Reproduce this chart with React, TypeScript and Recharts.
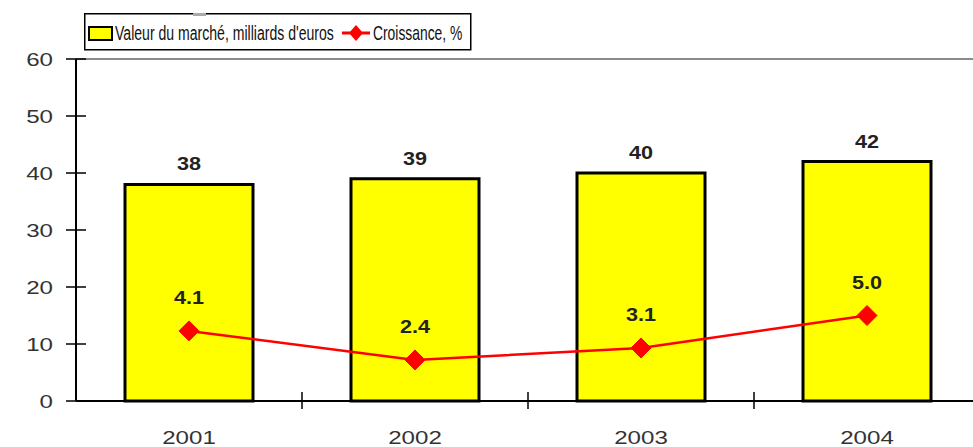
import React from 'react';
import { ComposedChart, Bar, Line, XAxis, YAxis, LabelList, ReferenceLine } from 'recharts';

// Data
const years = ['2001', '2002', '2003', '2004'];
const marketValue = [38, 39, 40, 42];
const growth = [4.1, 2.4, 3.1, 5.0];
const growthLabels = ['4.1', '2.4', '3.1', '5.0'];
const yTicks = [0, 10, 20, 30, 40, 50, 60];

const chartData = years.map((year, i) => ({
  year,
  value: marketValue[i],
  growth: growth[i],
  growthLabel: growthLabels[i]
}));

const CHART_W = 990;
const CHART_H = 447;
const MARGIN = { top: 59, right: 10, bottom: 16, left: 0 };
const Y_AXIS_W = 76;
const BAND = (CHART_W - MARGIN.left - MARGIN.right - Y_AXIS_W) / years.length;

const FONT = "'Liberation Sans', Arial, Helvetica, sans-serif";
const STRETCH = 1.27; // the picture's text is drawn wide

const YTick = (props: any) => {
  const { x, y, payload } = props;
  return (
    <g>
      <line x1={x - 10} x2={x + 10} y1={y} y2={y} stroke="#000" strokeWidth={1.5} />
      <text
        transform={`translate(${x - 23},${y + 7}) scale(${STRETCH},1)`}
        textAnchor="end"
        fontFamily={FONT}
        fontSize={19}
        fill="#333"
      >
        {payload.value}
      </text>
    </g>
  );
};

const XTick = (props: any) => {
  const { x, y, payload } = props;
  const bx = x + BAND / 2;
  return (
    <g>
      <line x1={bx} x2={bx} y1={y - 9} y2={y + 8} stroke="#000" strokeWidth={1.5} />
      <text
        transform={`translate(${x},${y + 43}) scale(${STRETCH},1)`}
        textAnchor="middle"
        fontFamily={FONT}
        fontSize={19}
        fill="#333"
      >
        {payload.value}
      </text>
    </g>
  );
};

const Diamond = (props: any) => {
  const { cx, cy } = props;
  if (cx == null || cy == null) return null;
  const r = 10;
  return (
    <polygon
      points={`${cx},${cy - r} ${cx + r},${cy} ${cx},${cy + r} ${cx - r},${cy}`}
      fill="#ff0000"
      stroke="#ff0000"
    />
  );
};

const BarValueLabel = (props: any) => {
  const { x, y, width, value } = props;
  return (
    <text
      transform={`translate(${x + width / 2},${y - 14}) scale(1.2,1)`}
      textAnchor="middle"
      fontFamily={FONT}
      fontWeight="bold"
      fontSize={18}
      fill="#222"
    >
      {value}
    </text>
  );
};

const GrowthLabel = (props: any) => {
  const { x, y, value } = props;
  return (
    <text
      transform={`translate(${x},${y - 27}) scale(1.2,1)`}
      textAnchor="middle"
      fontFamily={FONT}
      fontWeight="bold"
      fontSize={18}
      fill="#222"
    >
      {value}
    </text>
  );
};

// legend drawn as its own box, above the plot, like the original (narrow text)
const LegendBox = () => (
  <svg width={388} height={38} style={{ position: 'absolute', left: 84, top: 13 }}>
    <rect x={0.75} y={0.75} width={386} height={36} fill="#fff" stroke="#000" strokeWidth={1.5} />
    <rect x={109} y={0} width={13} height={3} fill="#aaa" />
    <rect x={5} y={14} width={23} height={13} fill="#ffff00" stroke="#000" strokeWidth={2} />
    <text transform="translate(31,27) scale(0.67,1)" fontFamily={FONT} fontSize={21} fill="#111">
      Valeur du marché, milliards d'euros
    </text>
    <line x1={258} x2={286} y1={20} y2={20} stroke="#ff0000" strokeWidth={3} />
    <polygon points="272,12 279,20 272,28 265,20" fill="#ff0000" />
    <text transform="translate(289,27) scale(0.66,1)" fontFamily={FONT} fontSize={21} fill="#111">
      Croissance, %
    </text>
  </svg>
);

const App: React.FC = () => {
  return (
    <div style={{ position: 'absolute', left: 0, top: 0, width: 973, height: 447, overflow: 'hidden', background: '#fff' }}>
      <ComposedChart width={CHART_W} height={CHART_H} data={chartData} margin={MARGIN}>
        <XAxis
          dataKey="year"
          height={30}
          tickSize={0}
          tickMargin={0}
          tickLine={false}
          axisLine={{ stroke: '#000', strokeWidth: 2 }}
          tick={<XTick />}
          interval={0}
        />
        <YAxis
          yAxisId="left"
          width={Y_AXIS_W}
          domain={[0, 60]}
          ticks={yTicks}
          tickSize={0}
          tickMargin={0}
          tickLine={false}
          axisLine={{ stroke: '#000', strokeWidth: 2 }}
          tick={<YTick />}
          interval={0}
        />
        <YAxis yAxisId="right" orientation="right" domain={[0, 20]} hide />
        <ReferenceLine yAxisId="left" y={60} stroke="#8a8a8a" strokeWidth={2} />
        <Bar
          yAxisId="left"
          dataKey="value"
          name="Valeur du marché, milliards d'euros"
          fill="#ffff00"
          stroke="#000"
          strokeWidth={3}
          barSize={128}
          isAnimationActive={false}
        >
          <LabelList dataKey="value" content={<BarValueLabel />} />
        </Bar>
        <Line
          yAxisId="right"
          dataKey="growth"
          name="Croissance, %"
          type="linear"
          stroke="#ff0000"
          strokeWidth={2.5}
          dot={<Diamond />}
          activeDot={false}
          isAnimationActive={false}
        >
          <LabelList dataKey="growthLabel" content={<GrowthLabel />} />
        </Line>
      </ComposedChart>
      <LegendBox />
    </div>
  );
};

export default App;
